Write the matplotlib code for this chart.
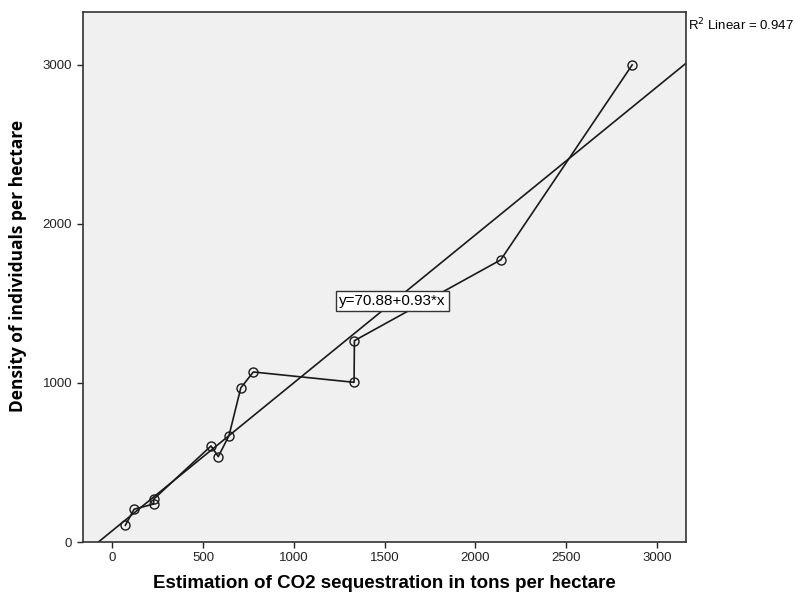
import matplotlib
matplotlib.use("Agg")
import matplotlib.pyplot as plt
import numpy as np

plt.rcParams['font.family'] = ['Liberation Sans', 'DejaVu Sans']

# Data, in plotting order
co2 = [72, 120, 228, 228, 544, 584, 643, 708, 777, 1332, 1334, 2140, 2864]
density = [105, 206, 239, 269, 604, 537, 669, 969, 1069, 1004, 1266, 1774, 3000]

intercept = 70.88
slope = 0.93
r2 = 0.947

x_ticks = [0, 500, 1000, 1500, 2000, 2500, 3000]
y_ticks = [0, 1000, 2000, 3000]
xlim = (-163, 3161)
ylim = (0, 3333)

fig = plt.figure(figsize=(7.95, 5.96), dpi=100)
ax = fig.add_axes([0.104, 0.0906, 0.759, 0.8894])
ax.set_facecolor('#F0F0F0')

ax.plot(co2, density, color='#1a1a1a', lw=1.2, marker='o', ms=6.5,
        mfc='none', mec='#1a1a1a', mew=1.0, zorder=3)

xs = np.array(xlim)
ax.plot(xs, intercept + slope * xs, color='#1a1a1a', lw=1.2, zorder=2)

ax.set_xlim(*xlim)
ax.set_ylim(*ylim)
ax.set_xticks(x_ticks)
ax.set_yticks(y_ticks)
ax.tick_params(direction='out', length=4, width=1, labelsize=9.5, colors='#222222')
for s in ax.spines.values():
    s.set_color('#333333')
    s.set_linewidth(1.2)

ax.set_xlabel('Estimation of CO2 sequestration in tons per hectare',
              fontsize=13.5, fontweight='bold', va='center')
ax.xaxis.set_label_coords(0.5, -0.079)
ax.set_ylabel('Density of individuals per hectare',
              fontsize=12.5, fontweight='bold', family=['Open Sans', 'DejaVu Sans'])
ax.yaxis.set_label_coords(-0.092, 0.52)

ax.text(1544, 1513, f'y={intercept:.2f}+{slope:.2f}*x', fontsize=11,
        ha='center', va='center', zorder=5,
        bbox=dict(boxstyle='square,pad=0.2', fc='white', ec='#333333', lw=1))

fig.text(0.865, 0.958, f'R$^2$ Linear = {r2:.3f}', fontsize=9.5,
         ha='left', va='center')

fig.savefig('out.png', dpi=100)
